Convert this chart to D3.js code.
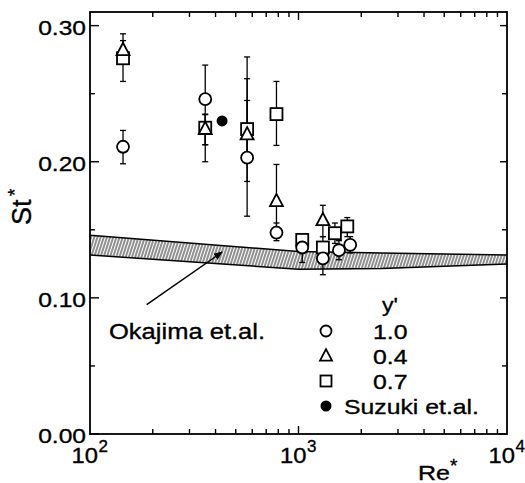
<!DOCTYPE html>
<html>
<head>
<meta charset="utf-8">
<script src="https://cdn.jsdelivr.net/npm/d3@7"></script>
<style>
  body { margin: 0; background: #fff; }
  svg { display: block; }
  text { font-family: "Liberation Sans", Arial, Helvetica, sans-serif; fill: #000; stroke: #000; stroke-width: 0.35px; }
</style>
</head>
<body>
<div id="chart"></div>
<script>
// y' = 1.0 (open circles)
const reCircle = [144, 357, 567, 784, 1042, 1309, 1563, 1770];
const stCircle = [0.211, 0.246, 0.203, 0.148, 0.137, 0.129, 0.135, 0.139];
const loCircle = [0.1985, 0.200, 0.160, 0.142, 0.126, 0.117, 0.128, 0.133];
const hiCircle = [0.223, 0.271, 0.277, 0.155, 0.145, 0.140, 0.142, 0.145];

// y' = 0.4 (open triangles)
const reTri = [144, 357, 567, 784, 1309];
const stTri = [0.282, 0.224, 0.220, 0.171, 0.157];
const loTri = [0.276, 0.2125, 0.1855, 0.152, 0.145];
const hiTri = [0.294, 0.235, 0.261, 0.198, 0.168];

// y' = 0.7 (open squares)
const reSquare = [144, 357, 567, 784, 1042, 1309, 1495, 1714];
const stSquare = [0.276, 0.225, 0.224, 0.235, 0.1426, 0.137, 0.1475, 0.1525];
const loSquare = [0.259, 0.2125, 0.200, 0.212, 0.137, 0.128, 0.140, 0.145];
const hiSquare = [0.289, 0.2346, 0.245, 0.259, 0.147, 0.145, 0.155, 0.159];

// Suzuki et.al. (filled circle)
const reSuzuki = [430];
const stSuzuki = [0.230];

// Okajima et.al. band
const reBand = [100, 1000, 2500, 10000];
const bandTop = [0.146, 0.134, 0.133, 0.1315];
const bandBottom = [0.1315, 0.121, 0.1215, 0.1248];

// arrow pointing at the band: [tail, head]
const arrowRe = [187, 430];
const arrowSt = [0.095, 0.1336];

const yTicks = [0, 0.05, 0.10, 0.15, 0.20, 0.25, 0.30];
const yLabels = ['0.00', '', '0.10', '', '0.20', '', '0.30'];
const xDecades = [100, 1000, 10000];
const xExponents = ['2', '3', '4'];
const legendLabels = ['1.0', '0.4', '0.7', 'Suzuki et.al.'];

const width = 525, height = 483;
const plotLeft = 90, plotRight = 507, plotTop = 12, plotBottom = 434;

const svg = d3.select('#chart').append('svg')
  .attr('width', width)
  .attr('height', height);

const x = d3.scaleLog().domain([100, 10000]).range([plotLeft, plotRight]);
const y = d3.scaleLinear().domain([0, 0.31]).range([plotBottom, plotTop]);

// widen text a bit like the scanned font
function stretch(sel, k) {
  sel.each(function () {
    const len = this.getComputedTextLength();
    this.setAttribute('textLength', len * k);
    this.setAttribute('lengthAdjust', 'spacingAndGlyphs');
  });
}

// hatch pattern for the band
const defs = svg.append('defs');
defs.append('pattern')
  .attr('id', 'hatch')
  .attr('patternUnits', 'userSpaceOnUse')
  .attr('width', 3)
  .attr('height', 6)
  .attr('patternTransform', 'rotate(18)')
  .append('line')
  .attr('x1', 1).attr('y1', 0)
  .attr('x2', 1).attr('y2', 6)
  .attr('stroke', '#222')
  .attr('stroke-width', 1);

defs.append('marker')
  .attr('id', 'arrowhead')
  .attr('viewBox', '0 0 10 10')
  .attr('refX', 9).attr('refY', 5)
  .attr('markerWidth', 9).attr('markerHeight', 9)
  .attr('markerUnits', 'userSpaceOnUse')
  .attr('orient', 'auto')
  .append('path')
  .attr('d', 'M0,1 L10,5 L0,9 Z')
  .attr('fill', '#000');

// Okajima band
const bandData = reBand.map((r, i) => ({ re: r, top: bandTop[i], bot: bandBottom[i] }));
svg.append('path')
  .datum(bandData)
  .attr('d', d3.area().x(d => x(d.re)).y0(d => y(d.bot)).y1(d => y(d.top)))
  .attr('fill', 'url(#hatch)');
svg.append('path')
  .datum(bandData)
  .attr('d', d3.line().x(d => x(d.re)).y(d => y(d.top)))
  .attr('fill', 'none').attr('stroke', '#000').attr('stroke-width', 1.5);
svg.append('path')
  .datum(bandData)
  .attr('d', d3.line().x(d => x(d.re)).y(d => y(d.bot)))
  .attr('fill', 'none').attr('stroke', '#000').attr('stroke-width', 1.5);

// arrow
svg.append('line')
  .attr('x1', x(arrowRe[0])).attr('y1', y(arrowSt[0]))
  .attr('x2', x(arrowRe[1])).attr('y2', y(arrowSt[1]))
  .attr('stroke', '#000')
  .attr('stroke-width', 1.4)
  .attr('marker-end', 'url(#arrowhead)');

svg.append('text')
  .attr('x', 109).attr('y', 339)
  .style('font-size', '22px')
  .text('Okajima et.al.')
  .call(stretch, 1.16);

// error bars
function errorBars(res, lo, hi) {
  const g = svg.append('g').attr('stroke', '#000').attr('stroke-width', 1.3);
  res.forEach((r, i) => {
    const cx = x(r);
    g.append('line').attr('x1', cx).attr('x2', cx).attr('y1', y(lo[i])).attr('y2', y(hi[i]));
    [lo[i], hi[i]].forEach(v => {
      g.append('line').attr('x1', cx - 3).attr('x2', cx + 3).attr('y1', y(v)).attr('y2', y(v));
    });
  });
}
errorBars(reCircle, loCircle, hiCircle);
errorBars(reTri, loTri, hiTri);
errorBars(reSquare, loSquare, hiSquare);

// marker shapes
function drawMarker(g, kind, cx, cy, s) {
  if (kind === 'circle') {
    g.append('circle').attr('cx', cx).attr('cy', cy).attr('r', s / 2)
      .attr('fill', '#fff').attr('stroke', '#000').attr('stroke-width', 1.8);
  } else if (kind === 'square') {
    g.append('rect').attr('x', cx - s / 2).attr('y', cy - s / 2).attr('width', s).attr('height', s)
      .attr('fill', '#fff').attr('stroke', '#000').attr('stroke-width', 1.8);
  } else if (kind === 'triangle') {
    const h = s * 0.95;
    g.append('path')
      .attr('d', `M${cx},${cy - h * 0.6} L${cx + s / 2},${cy + h * 0.4} L${cx - s / 2},${cy + h * 0.4} Z`)
      .attr('fill', '#fff').attr('stroke', '#000').attr('stroke-width', 1.8);
  } else {
    g.append('circle').attr('cx', cx).attr('cy', cy).attr('r', s / 2).attr('fill', '#000');
  }
}

const markG = svg.append('g');
reSquare.forEach((r, i) => drawMarker(markG, 'square', x(r), y(stSquare[i]), 12));
reTri.forEach((r, i) => drawMarker(markG, 'triangle', x(r), y(stTri[i]), 13));
reCircle.forEach((r, i) => drawMarker(markG, 'circle', x(r), y(stCircle[i]), 12));
reSuzuki.forEach((r, i) => drawMarker(markG, 'filled', x(r), y(stSuzuki[i]), 11));

// frame
svg.append('rect')
  .attr('x', plotLeft).attr('y', plotTop)
  .attr('width', plotRight - plotLeft).attr('height', plotBottom - plotTop)
  .attr('fill', 'none').attr('stroke', '#000').attr('stroke-width', 1.8);

// y ticks (inside, both sides)
const tickG = svg.append('g').attr('stroke', '#000').attr('stroke-width', 1.4);
yTicks.forEach((v, i) => {
  const major = yLabels[i] !== '';
  tickG.append('line').attr('x1', plotLeft).attr('x2', plotLeft + (major ? 9 : 5)).attr('y1', y(v)).attr('y2', y(v));
  tickG.append('line').attr('x1', plotRight).attr('x2', plotRight - (major ? 7 : 5)).attr('y1', y(v)).attr('y2', y(v));
});

// x ticks (log, inside, both sides)
const xMinor = x.ticks().filter(v => v > 100 && v < 10000);
xMinor.forEach(v => {
  const major = xDecades.includes(v);
  const len = major ? 8 : 5;
  tickG.append('line').attr('x1', x(v)).attr('x2', x(v)).attr('y1', plotBottom).attr('y2', plotBottom - len);
  tickG.append('line').attr('x1', x(v)).attr('x2', x(v)).attr('y1', plotTop).attr('y2', plotTop + len);
});

// y tick labels
yTicks.forEach((v, i) => {
  if (!yLabels[i]) return;
  svg.append('text')
    .attr('x', plotLeft - 4).attr('y', y(v) + 9)
    .attr('text-anchor', 'end')
    .style('font-size', '21px')
    .text(yLabels[i])
    .call(stretch, 1.17);
});

// x tick labels 10^n
xDecades.forEach((v, i) => {
  svg.append('text')
    .attr('x', x(v) + 8).attr('y', 463)
    .attr('text-anchor', 'end')
    .style('font-size', '22px')
    .text('10')
    .call(stretch, 1.08);
  svg.append('text')
    .attr('x', x(v) + 8.5).attr('y', 452)
    .style('font-size', '17px')
    .text(xExponents[i]);
});

// axis titles
svg.append('text')
  .attr('x', 418).attr('y', 480)
  .style('font-size', '21px')
  .text('Re')
  .call(stretch, 1.19);
svg.append('text')
  .attr('x', 450).attr('y', 472)
  .style('font-size', '19px')
  .text('*');

const stTitle = svg.append('g').attr('transform', 'translate(31,225) rotate(-90)');
stTitle.append('text')
  .attr('x', 0).attr('y', 0)
  .style('font-size', '27px')
  .text('St');
stTitle.append('text')
  .attr('x', 29).attr('y', -10)
  .style('font-size', '19px')
  .text('*');

// legend
svg.append('text')
  .attr('x', 382).attr('y', 312)
  .style('font-size', '21px')
  .text("y'")
  .call(stretch, 1.1);

const legendKinds = ['circle', 'triangle', 'square', 'filled'];
const legendG = svg.append('g');
legendLabels.forEach((lab, i) => {
  const cy = 331 + i * 25;
  drawMarker(legendG, legendKinds[i], 326, cy, legendKinds[i] === 'triangle' ? 12 : 11);
  legendG.append('text')
    .attr('x', i === 3 ? 344 : 373).attr('y', cy + 7.5)
    .style('font-size', '21px')
    .text(lab)
    .call(stretch, 1.18);
});
</script>
</body>
</html>
